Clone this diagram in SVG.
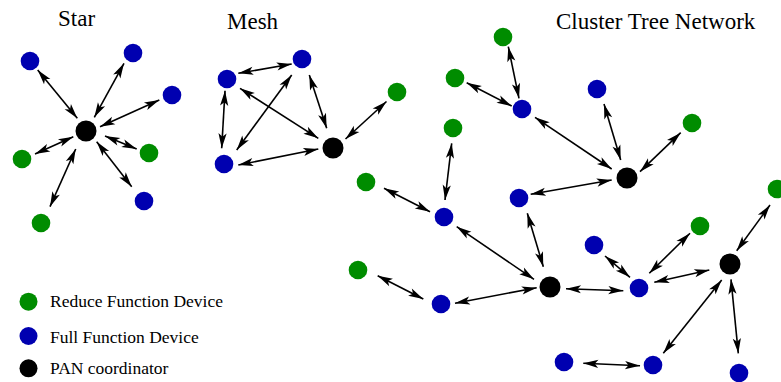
<svg xmlns="http://www.w3.org/2000/svg" width="781" height="382" viewBox="0 0 781 382">
<style>
.g{fill:#008c00}
.b{fill:#0000b0}
.k{fill:#000}
#edges line{stroke:#000;stroke-width:1.6;marker-start:url(#ah);marker-end:url(#ah)}
</style>
<defs>
<marker id="ah" markerUnits="userSpaceOnUse" markerWidth="16" markerHeight="10" refX="15" refY="4.5" orient="auto-start-reverse" overflow="visible">
<path d="M0,0.4 L15,4.5 L0,8.6 L3.5,4.5 z" fill="#000"/>
</marker>
</defs>
<rect width="781" height="382" fill="#fff"/>
<g id="titles" font-family="'Liberation Serif', 'Times New Roman', 'DejaVu Serif', serif" font-size="23" fill="#000">
<text x="58" y="26">Star</text>
<text x="227" y="28.5">Mesh</text>
<text x="556" y="28.5">Cluster Tree Network</text>
</g>
<g id="edges">
<line x1="37.7" y1="70" x2="77.3" y2="118.3"/>
<line x1="124" y1="63.3" x2="94.3" y2="117.3"/>
<line x1="159.3" y1="100" x2="100" y2="126.7"/>
<line x1="105" y1="136" x2="136.7" y2="149"/>
<line x1="96.7" y1="141.7" x2="131.7" y2="186.7"/>
<line x1="75.7" y1="149" x2="50" y2="206.7"/>
<line x1="73.3" y1="136.7" x2="35" y2="154"/>
<line x1="238.3" y1="73.3" x2="291.7" y2="64"/>
<line x1="225" y1="90.7" x2="221.7" y2="148.3"/>
<line x1="240" y1="88.3" x2="318.3" y2="138.3"/>
<line x1="236.7" y1="150" x2="291.7" y2="75"/>
<line x1="238.3" y1="165" x2="318.3" y2="149"/>
<line x1="309.3" y1="75" x2="326.7" y2="128.3"/>
<line x1="345.5" y1="139" x2="386.5" y2="101.5"/>
<line x1="508.3" y1="46.7" x2="519" y2="98.3"/>
<line x1="466.7" y1="82.7" x2="511.7" y2="106"/>
<line x1="535" y1="117.3" x2="611.7" y2="169"/>
<line x1="604" y1="104" x2="620.7" y2="160"/>
<line x1="680.7" y1="132.7" x2="640" y2="171.7"/>
<line x1="611.7" y1="180" x2="530.7" y2="194.3"/>
<line x1="451.7" y1="143.3" x2="445" y2="200"/>
<line x1="384" y1="188.3" x2="430" y2="211.7"/>
<line x1="527.3" y1="213.3" x2="543.3" y2="266.7"/>
<line x1="456.7" y1="226.7" x2="534" y2="279.3"/>
<line x1="377.7" y1="275.7" x2="423.3" y2="299"/>
<line x1="455" y1="303.3" x2="536.7" y2="287.7"/>
<line x1="566" y1="288.7" x2="623.3" y2="290.7"/>
<line x1="605" y1="256" x2="630" y2="277.3"/>
<line x1="690" y1="233.3" x2="649.3" y2="273.3"/>
<line x1="654.3" y1="282.3" x2="709.3" y2="270"/>
<line x1="770" y1="205" x2="736.7" y2="250.7"/>
<line x1="721.7" y1="280" x2="663.3" y2="353.3"/>
<line x1="731" y1="279.3" x2="738.3" y2="353.3"/>
<line x1="583.3" y1="363.3" x2="640" y2="365.7"/>
</g>
<g id="star-coord"><circle class="k" cx="86" cy="131" r="10.5"/></g>
<g id="star-ffd1"><circle class="b" cx="30" cy="61" r="9.3"/></g>
<g id="star-ffd2"><circle class="b" cx="133" cy="53" r="9.3"/></g>
<g id="star-ffd3"><circle class="b" cx="172" cy="95" r="9.3"/></g>
<g id="star-rfd1"><circle class="g" cx="149" cy="153" r="9.3"/></g>
<g id="star-ffd4"><circle class="b" cx="144" cy="201" r="9.3"/></g>
<g id="star-rfd2"><circle class="g" cx="41" cy="223" r="9.3"/></g>
<g id="star-rfd3"><circle class="g" cx="22" cy="159" r="9.3"/></g>
<g id="mesh-ffd1"><circle class="b" cx="227" cy="79" r="9.3"/></g>
<g id="mesh-ffd2"><circle class="b" cx="302" cy="59" r="9.3"/></g>
<g id="mesh-ffd3"><circle class="b" cx="224" cy="164" r="9.3"/></g>
<g id="mesh-coord"><circle class="k" cx="333" cy="148" r="10.5"/></g>
<g id="mesh-rfd1"><circle class="g" cx="397" cy="92" r="9.3"/></g>
<g id="ct-rfd1"><circle class="g" cx="503" cy="37" r="9.3"/></g>
<g id="ct-rfd2"><circle class="g" cx="455" cy="78" r="9.3"/></g>
<g id="ct-ffd1"><circle class="b" cx="522" cy="109" r="9.3"/></g>
<g id="ct-ffd2"><circle class="b" cx="597" cy="89" r="9.3"/></g>
<g id="ct-rfd3"><circle class="g" cx="692" cy="123" r="9.3"/></g>
<g id="ct-rfd4"><circle class="g" cx="453" cy="128" r="9.3"/></g>
<g id="ct-coord1"><circle class="k" cx="627" cy="178" r="10.5"/></g>
<g id="ct-rfd5"><circle class="g" cx="366" cy="182" r="9.3"/></g>
<g id="ct-ffd3"><circle class="b" cx="519" cy="198" r="9.3"/></g>
<g id="ct-ffd4"><circle class="b" cx="444" cy="217" r="9.3"/></g>
<g id="ct-rfd6"><circle class="g" cx="777" cy="189" r="9.3"/></g>
<g id="ct-rfd7"><circle class="g" cx="358" cy="270" r="9.3"/></g>
<g id="ct-ffd5"><circle class="b" cx="441" cy="304" r="9.3"/></g>
<g id="ct-coord2"><circle class="k" cx="550" cy="287" r="10.5"/></g>
<g id="ct-ffd6"><circle class="b" cx="594" cy="245" r="9.3"/></g>
<g id="ct-rfd8"><circle class="g" cx="700" cy="226" r="9.3"/></g>
<g id="ct-ffd7"><circle class="b" cx="639" cy="288" r="9.3"/></g>
<g id="ct-coord3"><circle class="k" cx="730" cy="264" r="10.5"/></g>
<g id="ct-ffd8"><circle class="b" cx="564" cy="362" r="9.3"/></g>
<g id="ct-ffd9"><circle class="b" cx="653" cy="365" r="9.3"/></g>
<g id="ct-ffd10"><circle class="b" cx="739" cy="373" r="9.3"/></g>
<g id="legend" font-family="'Liberation Serif', 'Times New Roman', 'DejaVu Serif', serif" font-size="17.5" fill="#000">
<g id="legend-rfd"><circle class="g" cx="28.5" cy="301.7" r="9"/><text x="50" y="306.7">Reduce Function Device</text></g>
<g id="legend-ffd"><circle class="b" cx="28.5" cy="336" r="9"/><text x="50" y="343.3">Full Function Device</text></g>
<g id="legend-pan"><circle class="k" cx="28.5" cy="368.3" r="9"/><text x="50" y="374">PAN coordinator</text></g>
</g>
</svg>
